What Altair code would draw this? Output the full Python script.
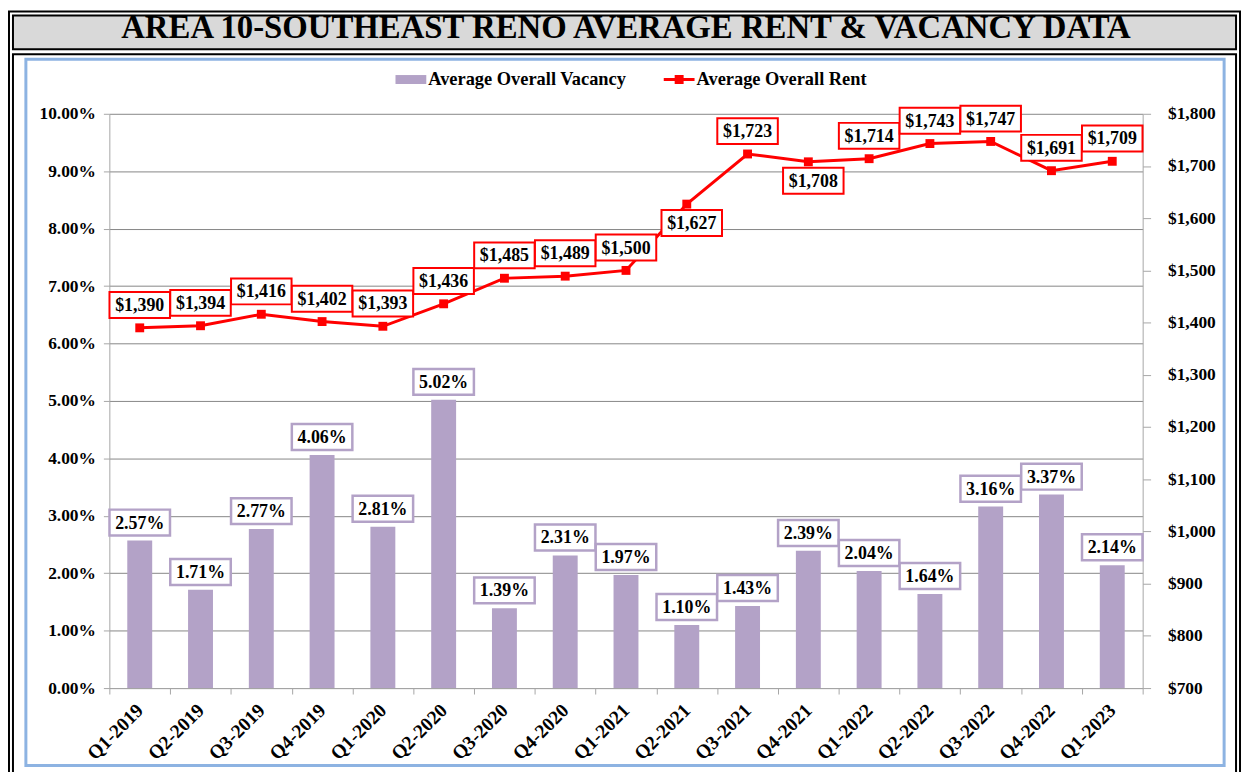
import altair as alt
import pandas as pd

quarters = ["Q1-2019", "Q2-2019", "Q3-2019", "Q4-2019", "Q1-2020", "Q2-2020",
            "Q3-2020", "Q4-2020", "Q1-2021", "Q2-2021", "Q3-2021", "Q4-2021",
            "Q1-2022", "Q2-2022", "Q3-2022", "Q4-2022", "Q1-2023"]
vacancy_pct = [2.57, 1.71, 2.77, 4.06, 2.81, 5.02, 1.39, 2.31, 1.97, 1.10,
               1.43, 2.39, 2.04, 1.64, 3.16, 3.37, 2.14]
avg_rent = [1390, 1394, 1416, 1402, 1393, 1436, 1485, 1489, 1500, 1627,
            1723, 1708, 1714, 1743, 1747, 1691, 1709]
rent_label_side = ["above", "above", "above", "above", "above", "above",
                   "above", "above", "above", "below", "above", "below",
                   "above", "above", "above", "above", "above"]
series_names = ["Average Overall Vacancy", "Average Overall Rent"]
title_text = "AREA 10-SOUTHEAST RENO AVERAGE RENT & VACANCY DATA"

vac_ticks = [i / 100 for i in range(0, 11)]
rent_ticks = list(range(700, 1900, 100))

df = pd.DataFrame({
    "quarter": quarters,
    "vac": [v / 100 for v in vacancy_pct],
    "rent": avg_rent,
    "side": rent_label_side,
})
legend_df = pd.DataFrame({"series": series_names})

FONT = "Liberation Serif"
LAV = "#b3a2c7"
RED = "#ff0000"
W, H = 1040, 578

x_enc = alt.X("quarter:N", sort=quarters,
              scale=alt.Scale(paddingInner=0, paddingOuter=0),
              axis=alt.Axis(title=None, labelAngle=315, tickBand="extent",
                            labelAlign="right", labelBaseline="middle",
                            labelFontSize=19.5, labelPadding=13, tickSize=6,
                            domainColor="#a6a6a6", tickColor="#a6a6a6"))

y_vac = alt.Y("vac:Q", scale=alt.Scale(domain=[0, 0.10], nice=False, zero=True),
              axis=alt.Axis(title=None, orient="left", format=".2%", values=vac_ticks,
                            grid=True, gridColor="#868686", tickSize=6, labelPadding=8,
                            domainColor="#a6a6a6", tickColor="#a6a6a6"))
y_rent = alt.Y("rent:Q", scale=alt.Scale(domain=[700, 1800], nice=False, zero=False),
               axis=alt.Axis(title=None, orient="right", format="$,.0f", values=rent_ticks,
                             grid=False, tickSize=8, labelPadding=17,
                             domainColor="#a6a6a6", tickColor="#a6a6a6"))

box_path = "M-2.03,-0.87H2.03V0.87H-2.03Z"

bars = alt.Chart(df).mark_bar(color=LAV, width=alt.RelativeBandSize(0.41)).encode(x=x_enc, y=y_vac)
vac_box = alt.Chart(df).mark_point(shape=box_path, size=900, fill="white", stroke=LAV,
                                   strokeWidth=2.5, opacity=1, fillOpacity=1,
                                   yOffset=-18).encode(x=x_enc, y=y_vac)
vac_text = alt.Chart(df).mark_text(font=FONT, fontWeight="bold", fontSize=18, color="black",
                                   baseline="middle", yOffset=-17).encode(
    x=x_enc, y=y_vac, text=alt.Text("vac:Q", format=".2%"))
left = alt.layer(bars, vac_box, vac_text)

rent_base = alt.Chart(df).transform_calculate(
    dy="datum.side == 'below' ? 19 : -23",
    dx="datum.side == 'below' ? 5 : 0",
)
line = rent_base.mark_line(color=RED, strokeWidth=3).encode(x=x_enc, y=y_rent)
pts = rent_base.mark_point(shape="square", filled=True, size=80, color=RED, opacity=1).encode(x=x_enc, y=y_rent)
rent_box = rent_base.mark_point(shape=box_path, size=900, fill="white", stroke=RED,
                                strokeWidth=2, opacity=1, fillOpacity=1,
                                xOffset={"expr": "datum.dx"},
                                yOffset={"expr": "datum.dy"}).encode(x=x_enc, y=y_rent)
rent_text = rent_base.mark_text(font=FONT, fontWeight="bold", fontSize=18, color="black",
                                baseline="middle", xOffset={"expr": "datum.dx"},
                                yOffset={"expr": "datum.dy + 1"}).encode(
    x=x_enc, y=y_rent, text=alt.Text("rent:Q", format="$,.0f"))
right = alt.layer(line, pts, rent_box, rent_text)

rect_sym = "M-1,-0.29H1V0.29H-1Z"
line_sym = "M-1,-0.1H1V0.1H-1Z M-0.29,-0.29H0.29V0.29H-0.29Z"
leg = alt.Legend(title=None, orient="none", legendX=288, legendY=-50,
                 direction="horizontal", symbolSize=961,
                 symbolOpacity=1, symbolStrokeWidth=0,
                 labelFont=FONT, labelFontWeight="bold",
                 labelFontSize=18.5, labelColor="black", labelLimit=400,
                 labelOffset=2, columnPadding=37, padding=0)
legend_layer = alt.Chart(legend_df).mark_point(filled=True, opacity=0).encode(
    color=alt.Color("series:N", scale=alt.Scale(domain=series_names, range=[LAV, RED]),
                    legend=leg),
    shape=alt.Shape("series:N", scale=alt.Scale(domain=series_names, range=[rect_sym, line_sym]),
                    legend=leg),
)

one = pd.DataFrame({"k": [0]})
frame_outer = alt.Chart(one).mark_rect(fill="transparent", stroke="black", strokeWidth=2).encode(
    x=alt.value(-101), x2=alt.value(1138), y=alt.value(-103), y2=alt.value(690))
frame_title = alt.Chart(one).mark_rect(fill="#d9d9d9", stroke="black", strokeWidth=2).encode(
    x=alt.value(-97), x2=alt.value(1134), y=alt.value(-99), y2=alt.value(-65))
frame_lower = alt.Chart(one).mark_rect(fill="transparent", stroke="black", strokeWidth=2).encode(
    x=alt.value(-97), x2=alt.value(1134), y=alt.value(-60), y2=alt.value(690))
frame_blue = alt.Chart(one).mark_rect(fill="transparent", stroke="#8db3e2", strokeWidth=3).encode(
    x=alt.value(-84), x2=alt.value(1122), y=alt.value(-55), y2=alt.value(656))
frames = alt.layer(frame_outer, frame_title, frame_lower, frame_blue)

chart = alt.layer(frames, left, right, legend_layer).resolve_scale(
    y="independent"
).properties(
    width=W, height=H,
    title=alt.TitleParams(title_text, font=FONT, fontSize=33, fontWeight="bold",
                          color="black", anchor="middle", baseline="alphabetic",
                          offset=-61),
    autosize=alt.AutoSizeParams(type="none"),
    padding={"left": 102, "top": 104, "right": 100, "bottom": 82},
).configure_view(stroke="transparent").configure_axis(
    labelFont=FONT, labelFontWeight="bold", labelFontSize=17.5, labelColor="black"
)

chart.save("out.html", embed_options={"renderer": "svg", "actions": False})
